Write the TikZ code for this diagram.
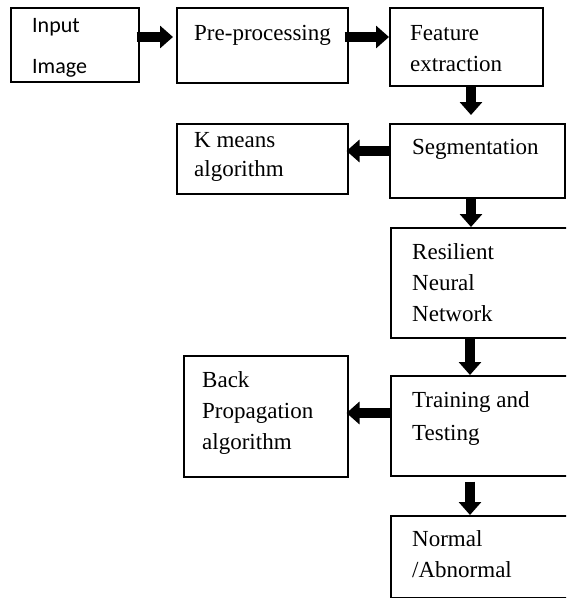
\documentclass[tikz,border=0pt]{standalone}
\usepackage{fontspec}
\setmainfont{Liberation Serif}
\newfontfamily\calfont{Carlito}
\usetikzlibrary{arrows.meta}
\begin{document}
\begin{tikzpicture}[x=1pt,y=-1pt,
  box/.style={draw, line width=1.5pt, inner sep=0pt, anchor=north west},
  % labels are placed by the baseline of their last line
  lbl/.style={anchor=base west, inner sep=0pt, align=left},
  txt/.style={font=\fontsize{23}{31}\selectfont},
  blk/.style={line width=10pt, -{Triangle[width=22pt,length=13pt]}},
]
\path[use as bounding box] (0,0) rectangle (566,598);
\clip (0,0) rectangle (566,598);

% boxes (top-left corner, size)
\node[box, minimum width=128pt, minimum height=74pt]  (in)   at (10,7)   {};
\node[box, minimum width=171pt, minimum height=75pt]  (pre)  at (176,7)  {};
\node[box, minimum width=153pt, minimum height=78pt]  (feat) at (389,7)  {};
\node[box, minimum width=175pt, minimum height=74pt]  (seg)  at (389,123) {};
\node[box, minimum width=171pt, minimum height=70pt]  (km)   at (176,123) {};
\node[box, minimum width=190pt, minimum height=110pt] (rnn)  at (390,227) {};
\node[box, minimum width=164pt, minimum height=121pt] (bp)   at (183,355) {};
\node[box, minimum width=190pt, minimum height=100pt] (tt)   at (390,375) {};
\node[box, minimum width=190pt, minimum height=82pt]  (nm)   at (390,515) {};

% labels
\node[lbl, font={\calfont\fontsize{22}{41}\selectfont}] (inT) at (32,73) {Input\\Image};
\node[lbl, txt] (preT)  at (194,40)  {Pre-processing};
\node[lbl, txt] (featT) at (410,71)  {Feature\\extraction};
\node[lbl, txt] (segT)  at (412,154) {Segmentation};
\node[lbl, font=\fontsize{23}{29}\selectfont] (kmT) at (194,176) {K means\\algorithm};
\node[lbl, txt] (rnnT)  at (412,321) {Resilient\\Neural\\Network};
\node[lbl, txt] (bpT)   at (202,449) {Back\\Propagation\\algorithm};
\node[lbl, font=\fontsize{23}{33}\selectfont] (ttT) at (412,440) {Training and\\Testing};
\node[lbl, txt] (nmT)   at (412,577) {Normal\\/Abnormal};

% arrow rows and columns
\coordinate (r1) at (0,37);
\coordinate (r2) at (0,151);
\coordinate (r3) at (0,413);
\coordinate (c1) at (471,0);
\coordinate (c2) at (470,0);

\draw[blk] ([xshift=-3pt]in.east |- r1) -- ([xshift=-3pt]pre.west |- r1);
\draw[blk] ([xshift=-4pt]pre.east |- r1) -- (feat.west |- r1);
\draw[blk] (feat.south -| c1) -- ([yshift=8pt]seg.north -| c1);
\draw[blk] (seg.west |- r2) -- ([xshift=-2pt]km.east |- r2);
\draw[blk] (seg.south -| c1) -- (rnn.north -| c1);
\draw[blk] (rnn.south -| c2) -- (tt.north -| c2);
\draw[blk] (tt.west |- r3) -- ([xshift=-2pt]bp.east |- r3);
\draw[blk] ([yshift=-5pt]tt.south -| c2) -- (nm.north -| c2);
\end{tikzpicture}
\end{document}
